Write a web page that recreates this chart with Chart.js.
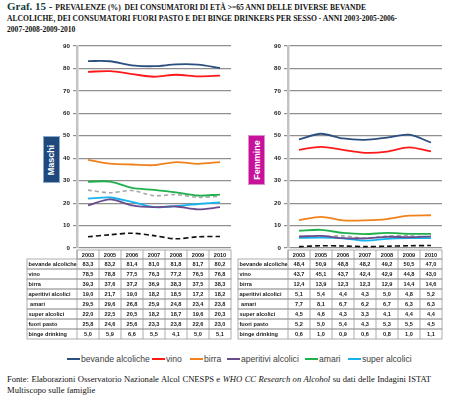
<!DOCTYPE html>
<html>
<head>
<meta charset="utf-8">
<script src="https://cdn.jsdelivr.net/npm/chart.js@4/dist/chart.umd.min.js"></script>
<style>
  body { margin: 0; background: #fff; }
  #page { position: relative; width: 462px; height: 413px; overflow: hidden; font-family: "Liberation Serif", serif; }
  #title { position: absolute; left: 7px; top: 1px; font-weight: bold; font-size: 7.6px; line-height: 11px; color: #111; white-space: nowrap; }
  #title .big { font-size: 11px; color: #123c3c; }
  canvas { position: absolute; top: 0; }
  .side { position: absolute; color: #fff; font-family: "Liberation Sans", sans-serif; font-weight: bold; font-size: 9px; display: flex; align-items: center; justify-content: center; }
  .side span { transform: rotate(-90deg); white-space: nowrap; }
  #legend { position: absolute; left: 0; top: 352px; width: 462px; height: 14px; font-family: "Liberation Sans", sans-serif; font-size: 8.6px; color: #404040; }
  #legend .item { position: absolute; top: 0; display: flex; align-items: center; height: 14px; white-space: nowrap; }
  #legend .sw { display: inline-block; width: 13px; height: 2px; margin-right: 1px; }
  #footer { position: absolute; left: 7px; top: 374px; width: 424px; font-size: 8.6px; line-height: 11px; color: #111; text-align: justify; text-align-last: left; }
</style>
</head>
<body>
<div id="page">
  <div id="title"><span class="big">Graf. 15 - </span>PREVALENZE (%)&nbsp; DEI CONSUMATORI DI ETÀ &gt;=65 ANNI DELLE DIVERSE BEVANDE<br>ALCOLICHE, DEI CONSUMATORI FUORI PASTO E DEI BINGE DRINKERS PER SESSO - ANNI 2003-2005-2006-<br>2007-2008-2009-2010</div>
  <canvas id="maschi" width="240" height="345" style="left:0px;width:240px;height:345px"></canvas>
  <canvas id="femmine" width="227" height="345" style="left:235px;width:227px;height:345px"></canvas>
  <div class="side" style="left:43px;top:136px;width:17px;height:47px;background:#1f497d;border:1px solid #8eaacb;box-sizing:border-box"><span>Maschi</span></div>
  <div class="side" style="left:248px;top:135px;width:17px;height:50px;background:#c8119b;border:1px solid #e48ccf;box-sizing:border-box"><span>Femmine</span></div>
  <div id="legend"></div>
  <div id="footer">Fonte: Elaborazioni Osservatorio Nazionale Alcol CNESPS e <i>WHO CC Research on Alcohol</i> su dati delle Indagini ISTAT Multiscopo sulle famiglie</div>
</div>
<script>
const years = ["2003", "2005", "2006", "2007", "2008", "2009", "2010"];
const seriesNames = ["bevande alcoliche", "vino", "birra", "aperitivi alcolici", " amari", "super alcolici", "fuori pasto", "binge drinking"];
const yTicks = [0, 10, 20, 30, 40, 50, 60, 70, 80, 90];

// Maschi
const mBevande = [83.3, 83.2, 81.4, 81.0, 81.8, 81.7, 80.2];
const mVino = [78.5, 78.8, 77.5, 76.3, 77.2, 76.5, 76.8];
const mBirra = [39.3, 37.6, 37.2, 36.9, 38.3, 37.5, 38.3];
const mAperitivi = [19.0, 21.7, 19.0, 18.2, 18.5, 17.2, 18.2];
const mAmari = [29.5, 29.6, 26.8, 25.9, 24.8, 23.4, 23.8];
const mSuper = [22.0, 22.5, 20.5, 18.2, 18.7, 19.6, 20.3];
const mFuoriPasto = [25.8, 24.6, 25.6, 23.3, 23.8, 22.6, 23.0];
const mBinge = [5.0, 5.9, 6.6, 5.5, 4.1, 5.0, 5.1];

// Femmine
const fBevande = [48.4, 50.9, 48.8, 48.2, 49.2, 50.5, 47.0];
const fVino = [43.7, 45.1, 43.7, 42.4, 42.9, 44.8, 43.0];
const fBirra = [12.4, 13.9, 12.3, 12.3, 12.9, 14.4, 14.6];
const fAperitivi = [5.1, 5.4, 4.4, 4.3, 5.0, 4.8, 5.2];
const fAmari = [7.7, 8.1, 6.7, 6.2, 6.7, 6.3, 6.3];
const fSuper = [4.5, 4.6, 4.3, 3.3, 4.1, 4.4, 4.4];
const fFuoriPasto = [5.2, 5.0, 5.4, 4.3, 5.3, 5.5, 4.5];
const fBinge = [0.6, 1.0, 0.9, 0.6, 0.8, 1.0, 1.1];

const colors = ["#2b4f7e", "#ff1a1a", "#f0821e", "#6a4c8c", "#1fb04c", "#16b4ef", "#a6a6a6", "#111111"];
const dashes = [[], [], [], [], [], [], [4, 3], [5, 3]];

function fmt(v) {
  return v.toFixed(1).replace(".", ",");
}

// draws the data table under the plot, aligned on the x scale
const tablePlugin = {
  id: "dataTable",
  afterDraw(chart, args, opts) {
    const ctx = chart.ctx;
    const area = chart.chartArea;
    const xs = chart.scales.x;
    const colW = (area.right - area.left) / years.length;
    const top = area.bottom + 2;
    const headH = 9;
    const rowH = 10;
    const labelLeft = opts.labelLeft;
    ctx.save();
    ctx.strokeStyle = "#9a9a9a";
    ctx.lineWidth = 0.8;
    ctx.font = "bold 5.6px 'Liberation Sans', sans-serif";
    ctx.fillStyle = "#1a1a1a";
    ctx.textBaseline = "middle";
    // header
    ctx.strokeRect(area.left, top, area.right - area.left, headH);
    years.forEach((y, i) => {
      const cx = xs.getPixelForValue(i);
      ctx.textAlign = "center";
      ctx.fillText(y, cx, top + headH / 2 + 0.5);
      ctx.beginPath();
      ctx.moveTo(area.left + i * colW, top);
      ctx.lineTo(area.left + i * colW, top + headH + rowH * chart.data.datasets.length);
      ctx.stroke();
    });
    chart.data.datasets.forEach((ds, r) => {
      const ry = top + headH + r * rowH;
      ctx.strokeRect(labelLeft, ry, area.right - labelLeft, rowH);
      ctx.textAlign = "left";
      ctx.fillText(ds.label, labelLeft + 1.5, ry + rowH / 2 + 0.5);
      ds.data.forEach((v, i) => {
        ctx.textAlign = "center";
        ctx.fillText(fmt(v), xs.getPixelForValue(i), ry + rowH / 2 + 0.5);
      });
    });
    ctx.restore();
  }
};

function makeChart(id, values, padLeft, padRight, labelLeft) {
  const datasets = values.map((d, i) => ({
    label: seriesNames[i],
    data: d,
    borderColor: colors[i],
    backgroundColor: colors[i],
    borderWidth: i >= 6 ? 1.6 : 1.8,
    borderDash: dashes[i],
    pointRadius: 0,
    tension: 0.3,
    fill: false
  }));
  return new Chart(document.getElementById(id), {
    type: "line",
    data: { labels: years, datasets: datasets },
    plugins: [tablePlugin],
    options: {
      responsive: false,
      animation: false,
      layout: { padding: { left: padLeft, right: padRight, top: 46, bottom: 97 } },
      plugins: {
        legend: { display: false },
        tooltip: { enabled: false },
        dataTable: { labelLeft: labelLeft }
      },
      scales: {
        x: { type: "category", offset: true, display: false },
        y: {
          min: 0,
          max: 90,
          afterBuildTicks: (scale) => { scale.ticks = yTicks.map(v => ({ value: v })); },
          afterFit: (scale) => { scale.width = 20; },
          border: { color: "#c4c4c4", width: 2.5 },
          grid: { color: "#8f8f8f", lineWidth: 1.2, tickLength: 4 },
          ticks: {
            padding: 3,
            color: "#222",
            font: { family: "'Liberation Sans', sans-serif", size: 6.2, weight: "bold" }
          }
        }
      }
    }
  });
}

makeChart("maschi", [mBevande, mVino, mBirra, mAperitivi, mAmari, mSuper, mFuoriPasto, mBinge], 57, 9, 27);
makeChart("femmine", [fBevande, fVino, fBirra, fAperitivi, fAmari, fSuper, fFuoriPasto, fBinge], 33, 20, 3);

// legend only lists the six beverages
const legendPos = [67, 152, 190, 227, 305, 348];
const legend = document.getElementById("legend");
seriesNames.slice(0, 6).forEach((name, i) => {
  const item = document.createElement("div");
  item.className = "item";
  item.style.left = legendPos[i] + "px";
  item.innerHTML = '<span class="sw" style="background:' + colors[i] + '"></span>' + name.trim();
  legend.appendChild(item);
});
</script>
</body>
</html>
